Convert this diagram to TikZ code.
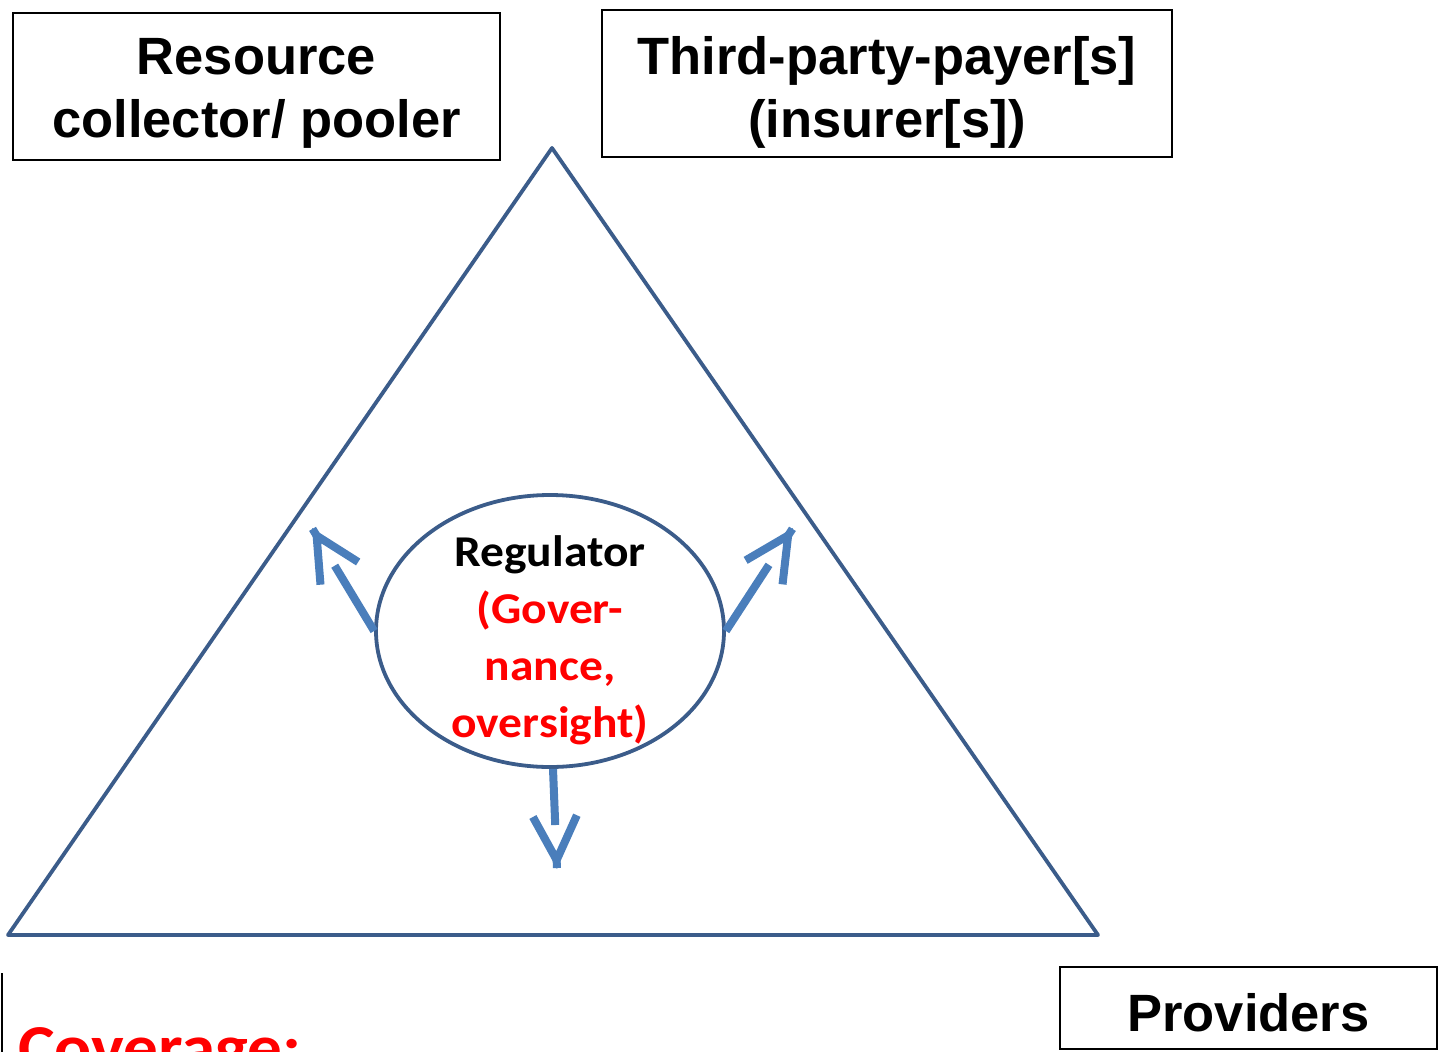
\documentclass[tikz,border=0pt]{standalone}
\usepackage{fontspec}
\setmainfont{Liberation Sans}
\newfontfamily\boxfont{Liberation Sans}
\newfontfamily\regfont[FakeStretch=1.08]{Carlito}
\usetikzlibrary{shapes,arrows.meta,calc}

\definecolor{triblue}{RGB}{59,92,138}
\definecolor{arrblue}{RGB}{74,126,187}
\definecolor{govred}{RGB}{255,0,0}

\tikzset{
  actorbox/.style={draw=black, line width=2pt, inner sep=0pt},
  actortext/.style={inner sep=0pt, align=center,
    font=\boxfont\bfseries\fontsize{52.5}{63}\selectfont},
  regshaft/.style={draw=arrblue, line width=8pt},
  reghead/.style={draw=arrblue, line width=8pt,
    -{Straight Barb[sharp, length=44pt, width=44pt]}}
}

\begin{document}
\begin{tikzpicture}[x=1pt,y=1pt,yscale=-1]
\useasboundingbox (0,0) rectangle (1441,1052);

%Triangle corners
\coordinate (apex) at (552,148);
\coordinate (left) at (8,935);
\coordinate (right) at (1098,935);
\draw[triblue, line width=3.8pt, line join=round] (apex) -- (left) -- (right) -- cycle;

%Boxes
\node[actorbox, minimum width=487pt, minimum height=147pt] (collector) at (256.5,86.5) {};
\node[actortext] (collectortext) at ($(collector.center)+(0,6.7)$) {Resource\\collector/ pooler};
\node[actorbox, minimum width=570pt, minimum height=147pt] (payer) at (887,83.5) {};
\node[actortext] (payertext) at ($(payer.center)+(0,9.3)$) {Third-party-payer[s]\\(insurer[s])};
\node[actorbox, actortext, text height=46pt, text depth=0pt, minimum width=377pt, minimum height=82pt] (providers) at (1248.5,1008) {Providers};

%Regulator
\node[ellipse, draw=triblue, line width=3.8pt, minimum width=348pt, minimum height=272pt] (regulator) at (550,631) {};
\node[align=center, font=\regfont\bfseries\fontsize{44}{57}\selectfont] (regtext) at (550,640)
  {Regulator\\\textcolor{govred}{(Gover-}\\\textcolor{govred}{nance,}\\\textcolor{govred}{oversight)}};

%Arrow tips
\coordinate (tipL) at (312,528);
\coordinate (tipR) at (793,528);
\coordinate (tipD) at (557,869);
\coordinate (startD) at ([xshift=3pt]regulator.south);

%Left arrow
\draw[regshaft] (regulator.west) -- ($(tipL)!44pt!(regulator.west)$);
\draw[reghead] ($(tipL)!1pt!(regulator.west)$) -- (tipL);
%Right arrow
\draw[regshaft] (regulator.east) -- ($(tipR)!44pt!(regulator.east)$);
\draw[reghead] ($(tipR)!1pt!(regulator.east)$) -- (tipR);
%Down arrow
\draw[regshaft] (startD) -- ($(tipD)!44pt!(startD)$);
\draw[reghead] ($(tipD)!1pt!(startD)$) -- (tipD);

%Coverage (cut off below)
\draw[line width=1.5pt] (2,973) -- (2,1060);
\node[anchor=base west, inner sep=0pt, text=govred, font=\regfont\bfseries\fontsize{64}{72}\selectfont] (coverage) at (18,1069) {Coverage:};

\end{tikzpicture}
\end{document}
